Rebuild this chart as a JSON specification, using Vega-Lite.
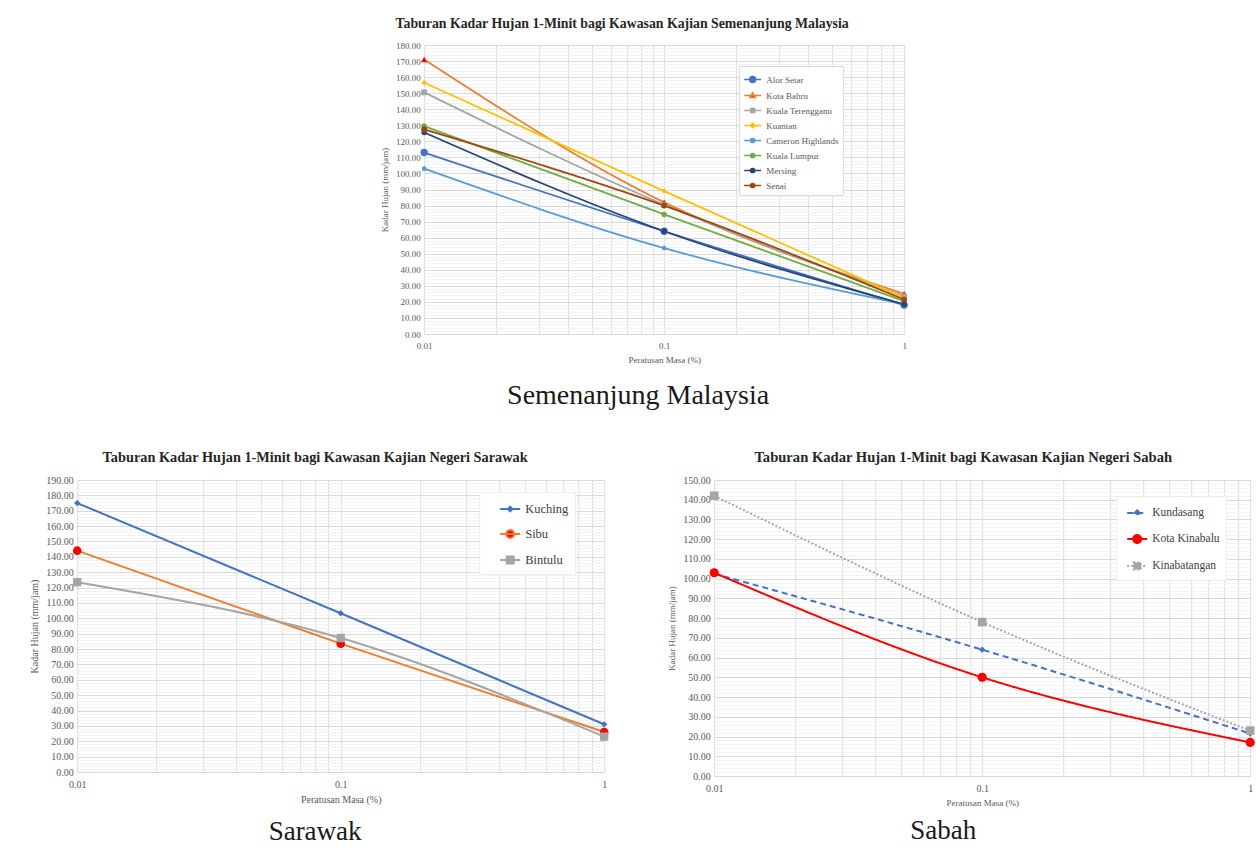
{
  "$schema": "https://vega.github.io/schema/vega-lite/v6.json",
  "background": "white",
  "padding": {"left": 29, "top": 17, "right": 0, "bottom": 0},
  "datasets": {
    "sem": [
      {"station": "Alor Setar", "masa": 0.01, "kadar": 113},
      {"station": "Alor Setar", "masa": 0.1, "kadar": 64},
      {"station": "Alor Setar", "masa": 1, "kadar": 18},
      {"station": "Kota Bahru", "masa": 0.01, "kadar": 171},
      {"station": "Kota Bahru", "masa": 0.1, "kadar": 82},
      {"station": "Kota Bahru", "masa": 1, "kadar": 25},
      {"station": "Kuala Terengganu", "masa": 0.01, "kadar": 150.5},
      {"station": "Kuala Terengganu", "masa": 0.1, "kadar": 80.5},
      {"station": "Kuala Terengganu", "masa": 1, "kadar": 23.5},
      {"station": "Kuantan", "masa": 0.01, "kadar": 156.5},
      {"station": "Kuantan", "masa": 0.1, "kadar": 89},
      {"station": "Kuantan", "masa": 1, "kadar": 22.5},
      {"station": "Cameron Highlands", "masa": 0.01, "kadar": 103},
      {"station": "Cameron Highlands", "masa": 0.1, "kadar": 53.5},
      {"station": "Cameron Highlands", "masa": 1, "kadar": 18.5},
      {"station": "Kuala Lumpur", "masa": 0.01, "kadar": 129.5},
      {"station": "Kuala Lumpur", "masa": 0.1, "kadar": 74.5},
      {"station": "Kuala Lumpur", "masa": 1, "kadar": 20.5},
      {"station": "Mersing", "masa": 0.01, "kadar": 125.5},
      {"station": "Mersing", "masa": 0.1, "kadar": 64},
      {"station": "Mersing", "masa": 1, "kadar": 18.5},
      {"station": "Senai", "masa": 0.01, "kadar": 127.5},
      {"station": "Senai", "masa": 0.1, "kadar": 80},
      {"station": "Senai", "masa": 1, "kadar": 21.5}
    ],
    "sar": [
      {"station": "Kuching", "masa": 0.01, "kadar": 175},
      {"station": "Kuching", "masa": 0.1, "kadar": 103.3},
      {"station": "Kuching", "masa": 1, "kadar": 31},
      {"station": "Sibu", "masa": 0.01, "kadar": 144},
      {"station": "Sibu", "masa": 0.1, "kadar": 83.5},
      {"station": "Sibu", "masa": 1, "kadar": 26},
      {"station": "Bintulu", "masa": 0.01, "kadar": 123.5},
      {"station": "Bintulu", "masa": 0.1, "kadar": 87.2},
      {"station": "Bintulu", "masa": 1, "kadar": 23}
    ],
    "sab": [
      {"station": "Kundasang", "masa": 0.01, "kadar": 102.5},
      {"station": "Kundasang", "masa": 0.1, "kadar": 64},
      {"station": "Kundasang", "masa": 1, "kadar": 21.5},
      {"station": "Kota Kinabalu", "masa": 0.01, "kadar": 103},
      {"station": "Kota Kinabalu", "masa": 0.1, "kadar": 50},
      {"station": "Kota Kinabalu", "masa": 1, "kadar": 17},
      {"station": "Kinabatangan", "masa": 0.01, "kadar": 142},
      {"station": "Kinabatangan", "masa": 0.1, "kadar": 78},
      {"station": "Kinabatangan", "masa": 1, "kadar": 23}
    ]
  },
  "vconcat": [
    {
      "title": {"text": "Semenanjung Malaysia", "orient": "bottom", "fontSize": 28, "fontWeight": "normal", "color": "#1a1a1a", "offset": 18, "dx": -6},
      "resolve": {"scale": {"stroke": "independent", "fill": "independent", "shape": "independent", "strokeDash": "independent", "strokeWidth": "independent"},
        "legend": {"stroke": "independent", "fill": "independent", "shape": "independent", "strokeDash": "independent", "strokeWidth": "independent"}},
      "vconcat": [
        {
          "width": 480,
          "height": 289,
          "title": {"text": "Taburan  Kadar Hujan 1-Minit bagi Kawasan  Kajian Semenanjung Malaysia", "offset": 10, "fontSize": 13.8, "dx": -22},
          "data": {"name": "sem"},
          "encoding": {
            "x": {"field": "masa", "type": "quantitative",
              "scale": {"type": "log", "domain": [0.01, 1], "nice": false},
              "axis": {"title": "Peratusan Masa (%)", "values": [0.01,0.02,0.03,0.04,0.05,0.06,0.07,0.08,0.09,0.1,0.2,0.3,0.4,0.5,0.6,0.7,0.8,0.9,1],
                "labelExpr": "indexof([0.01,0.1,1], datum.value) >= 0 ? toString(datum.value) : ''", "labelFontSize": 9, "titleFontSize": 9}},
            "y": {"field": "kadar", "type": "quantitative",
              "scale": {"domain": [0, 180], "nice": false, "zero": true},
              "axis": {"title": "Kadar Hujan (mm/jam)", "values": [0,2,4,6,8,10,12,14,16,18,20,22,24,26,28,30,32,34,36,38,40,42,44,46,48,50,52,54,56,58,60,62,64,66,68,70,72,74,76,78,80,82,84,86,88,90,92,94,96,98,100,102,104,106,108,110,112,114,116,118,120,122,124,126,128,130,132,134,136,138,140,142,144,146,148,150,152,154,156,158,160,162,164,166,168,170,172,174,176,178,180],
                "labelExpr": "datum.value % 10 == 0 ? format(datum.value, '.2f') : ''",
                "gridColor": {"expr": "datum.value % 10 == 0 ? '#d9d9d9' : '#f3f3f3'"}, "labelFontSize": 9, "titleFontSize": 9}}
          },
          "layer": [
            {
              "mark": {"type": "line", "interpolate": "monotone", "strokeWidth": 1.8},
              "encoding": {
                "stroke": {"field": "station", "type": "nominal",
                  "scale": {"domain": ["Alor Setar","Kota Bahru","Kuala Terengganu","Kuantan","Cameron Highlands","Kuala Lumpur","Mersing","Senai"],
                    "range": ["#4472C4","#ED7D31","#A5A5A5","#FFC000","#5B9BD5","#70AD47","#264478","#9E480E"]},
                  "legend": {"orient": "none", "legendX": 315, "legendY": 21, "title": null, "fillColor": "white", "strokeColor": "#d9d9d9", "padding": 4,
                    "symbolSize": 289, "rowPadding": 0, "labelFontSize": 9, "labelColor": "#595959", "symbolStrokeWidth": 1.6}}
              }
            },
            {
              "mark": {"type": "point", "filled": true, "opacity": 1},
              "encoding": {
                "fill": {"condition": [
                    {"test": "datum.station == 'Alor Setar'", "value": "#4472C4"},
                    {"test": "datum.station == 'Kota Bahru'", "value": "#FF0000"},
                    {"test": "datum.station == 'Kuala Terengganu'", "value": "#A5A5A5"},
                    {"test": "datum.station == 'Kuantan'", "value": "#FFC000"},
                    {"test": "datum.station == 'Cameron Highlands'", "value": "#5B9BD5"},
                    {"test": "datum.station == 'Kuala Lumpur'", "value": "#70AD47"},
                    {"test": "datum.station == 'Mersing'", "value": "#264478"}
                  ], "value": "#9E480E"},
                "shape": {"condition": [
                    {"test": "datum.station == 'Kota Bahru'", "value": "triangle-up"},
                    {"test": "datum.station == 'Kuala Terengganu'", "value": "square"},
                    {"test": "datum.station == 'Kuantan'", "value": "diamond"}
                  ], "value": "circle"},
                "size": {"condition": [
                    {"test": "datum.station == 'Alor Setar'", "value": 55},
                    {"test": "datum.station == 'Kota Bahru'", "value": 40},
                    {"test": "datum.station == 'Kuala Terengganu'", "value": 34},
                    {"test": "datum.station == 'Cameron Highlands'", "value": 22},
                    {"test": "datum.station == 'Senai'", "value": 36}
                  ], "value": 30}
              }
            },
            {
              "transform": [{"filter": "false"}],
              "mark": {"type": "point", "filled": true, "opacity": 1, "strokeWidth": 1.6},
              "encoding": {
                "stroke": {"field": "station", "type": "nominal",
                  "scale": {"domain": ["Alor Setar","Kota Bahru","Kuala Terengganu","Kuantan","Cameron Highlands","Kuala Lumpur","Mersing","Senai"],
                    "range": ["#4472C4","#ED7D31","#A5A5A5","#FFC000","#5B9BD5","#70AD47","#264478","#9E480E"]},
                  "legend": {"orient": "none", "legendX": 315, "legendY": 21, "title": null, "fillColor": "white", "strokeColor": "#d9d9d9", "padding": 4,
                    "symbolSize": 289, "rowPadding": 0, "labelFontSize": 9, "labelColor": "#595959", "symbolStrokeWidth": 1.6}},
                "fill": {"field": "station", "type": "nominal",
                  "scale": {"domain": ["Alor Setar","Kota Bahru","Kuala Terengganu","Kuantan","Cameron Highlands","Kuala Lumpur","Mersing","Senai"],
                    "range": ["#4472C4","#FF0000","#A5A5A5","#FFC000","#5B9BD5","#70AD47","#264478","#9E480E"]},
                  "legend": {"orient": "none", "legendX": 315, "legendY": 21, "title": null, "fillColor": "white", "strokeColor": "#d9d9d9", "padding": 4,
                    "symbolSize": 289, "rowPadding": 0, "labelFontSize": 9, "labelColor": "#595959", "symbolStrokeWidth": 1.6}},
                "shape": {"field": "station", "type": "nominal",
                  "scale": {"domain": ["Alor Setar","Kota Bahru","Kuala Terengganu","Kuantan","Cameron Highlands","Kuala Lumpur","Mersing","Senai"],
                    "range": ["M-1,0L1,0M-0.34,0A0.34,0.34,0,1,0,0.34,0A0.34,0.34,0,1,0,-0.34,0",
                      "M-1,0L1,0M0,-0.32L0.32,0.24L-0.32,0.24Z",
                      "M-1,0L1,0M-0.22,-0.22L0.22,-0.22L0.22,0.22L-0.22,0.22Z",
                      "M-1,0L1,0M0,-0.26L0.26,0L0,0.26L-0.26,0Z",
                      "M-1,0L1,0M-0.24,0A0.24,0.24,0,1,0,0.24,0A0.24,0.24,0,1,0,-0.24,0",
                      "M-1,0L1,0M-0.24,0A0.24,0.24,0,1,0,0.24,0A0.24,0.24,0,1,0,-0.24,0",
                      "M-1,0L1,0M-0.24,0A0.24,0.24,0,1,0,0.24,0A0.24,0.24,0,1,0,-0.24,0",
                      "M-1,0L1,0M-0.24,0A0.24,0.24,0,1,0,0.24,0A0.24,0.24,0,1,0,-0.24,0"]},
                  "legend": {"orient": "none", "legendX": 315, "legendY": 21, "title": null, "fillColor": "white", "strokeColor": "#d9d9d9", "padding": 4,
                    "symbolSize": 289, "rowPadding": 0, "labelFontSize": 9, "labelColor": "#595959", "symbolStrokeWidth": 1.6}}
              }
            }
          ]
        }
      ]
    },
    {
      "resolve": {"scale": {"stroke": "independent", "fill": "independent", "shape": "independent", "strokeDash": "independent", "strokeWidth": "independent"},
        "legend": {"stroke": "independent", "fill": "independent", "shape": "independent", "strokeDash": "independent", "strokeWidth": "independent"}},
      "hconcat": [
        {
          "title": {"text": "Sarawak", "orient": "bottom", "fontSize": 27, "fontWeight": "normal", "color": "#1a1a1a", "offset": 15, "dx": -4},
          "vconcat": [
            {
              "width": 527,
              "height": 292,
              "title": {"text": "Taburan  Kadar Hujan 1-Minit bagi Kawasan  Kajian Negeri Sarawak", "offset": 10, "fontSize": 14.3, "dx": -4},
              "data": {"name": "sar"},
              "encoding": {
                "x": {"field": "masa", "type": "quantitative",
                  "scale": {"type": "log", "domain": [0.01, 1], "nice": false},
                  "axis": {"title": "Peratusan Masa (%)", "values": [0.01,0.02,0.03,0.04,0.05,0.06,0.07,0.08,0.09,0.1,0.2,0.3,0.4,0.5,0.6,0.7,0.8,0.9,1],
                    "labelExpr": "indexof([0.01,0.1,1], datum.value) >= 0 ? toString(datum.value) : ''", "labelFontSize": 10, "titleFontSize": 10}},
                "y": {"field": "kadar", "type": "quantitative",
                  "scale": {"domain": [0, 190], "nice": false, "zero": true},
                  "axis": {"title": "Kadar Hujan (mm/jam)", "values": [0,2,4,6,8,10,12,14,16,18,20,22,24,26,28,30,32,34,36,38,40,42,44,46,48,50,52,54,56,58,60,62,64,66,68,70,72,74,76,78,80,82,84,86,88,90,92,94,96,98,100,102,104,106,108,110,112,114,116,118,120,122,124,126,128,130,132,134,136,138,140,142,144,146,148,150,152,154,156,158,160,162,164,166,168,170,172,174,176,178,180,182,184,186,188,190],
                    "labelExpr": "datum.value % 10 == 0 ? format(datum.value, '.2f') : ''",
                    "gridColor": {"expr": "datum.value % 10 == 0 ? '#d9d9d9' : '#f3f3f3'"}, "labelFontSize": 10, "titleFontSize": 10}}
              },
              "layer": [
                {
                  "mark": {"type": "line", "interpolate": "monotone", "strokeWidth": 2},
                  "encoding": {
                    "stroke": {"field": "station", "type": "nominal",
                      "scale": {"domain": ["Kuching","Sibu","Bintulu"], "range": ["#4472C4","#ED7D31","#A5A5A5"]},
                      "legend": {"orient": "none", "legendX": 402, "legendY": 12, "title": null, "fillColor": "white", "strokeColor": "#ececec", "padding": 6,
                        "symbolSize": 400, "rowPadding": 7, "symbolOffset": 14, "labelFontSize": 12.5, "labelColor": "#404040", "symbolStrokeWidth": 1.8}}
                  }
                },
                {
                  "mark": {"type": "point", "filled": true, "opacity": 1},
                  "encoding": {
                    "fill": {"condition": [
                        {"test": "datum.station == 'Kuching'", "value": "#4472C4"},
                        {"test": "datum.station == 'Sibu'", "value": "#FF0000"}
                      ], "value": "#A5A5A5"},
                    "shape": {"condition": [
                        {"test": "datum.station == 'Kuching'", "value": "diamond"},
                        {"test": "datum.station == 'Sibu'", "value": "circle"}
                      ], "value": "square"},
                    "size": {"condition": [
                        {"test": "datum.station == 'Kuching'", "value": 40},
                        {"test": "datum.station == 'Sibu'", "value": 75}
                      ], "value": 70}
                  }
                },
                {
                  "transform": [{"filter": "false"}],
                  "mark": {"type": "point", "filled": true, "opacity": 1, "strokeWidth": 1.8},
                  "encoding": {
                    "stroke": {"field": "station", "type": "nominal",
                      "scale": {"domain": ["Kuching","Sibu","Bintulu"], "range": ["#4472C4","#ED7D31","#A5A5A5"]},
                      "legend": {"orient": "none", "legendX": 402, "legendY": 12, "title": null, "fillColor": "white", "strokeColor": "#ececec", "padding": 6,
                        "symbolSize": 400, "rowPadding": 7, "symbolOffset": 14, "labelFontSize": 12.5, "labelColor": "#404040", "symbolStrokeWidth": 1.8}},
                    "fill": {"field": "station", "type": "nominal",
                      "scale": {"domain": ["Kuching","Sibu","Bintulu"], "range": ["#4472C4","#FF0000","#A5A5A5"]},
                      "legend": {"orient": "none", "legendX": 402, "legendY": 12, "title": null, "fillColor": "white", "strokeColor": "#ececec", "padding": 6,
                        "symbolSize": 400, "rowPadding": 7, "symbolOffset": 14, "labelFontSize": 12.5, "labelColor": "#404040", "symbolStrokeWidth": 1.8}},
                    "shape": {"field": "station", "type": "nominal",
                      "scale": {"domain": ["Kuching","Sibu","Bintulu"], "range": [
                        "M-1,0L1,0M0,-0.24L0.24,0L0,0.24L-0.24,0Z",
                        "M-1,0L1,0M-0.4,0A0.4,0.4,0,1,0,0.4,0A0.4,0.4,0,1,0,-0.4,0",
                        "M-1,0L1,0M-0.36,-0.36L0.36,-0.36L0.36,0.36L-0.36,0.36Z"]},
                      "legend": {"orient": "none", "legendX": 402, "legendY": 12, "title": null, "fillColor": "white", "strokeColor": "#ececec", "padding": 6,
                        "symbolSize": 400, "rowPadding": 7, "symbolOffset": 14, "labelFontSize": 12.5, "labelColor": "#404040", "symbolStrokeWidth": 1.8}}
                  }
                }
              ]
            }
          ]
        },
        {
          "title": {"text": "Sabah", "orient": "bottom", "fontSize": 27, "fontWeight": "normal", "color": "#1a1a1a", "offset": 11, "dx": -18},
          "vconcat": [
            {
              "width": 536,
              "height": 296,
              "title": {"text": "Taburan  Kadar Hujan 1-Minit bagi Kawasan  Kajian Negeri Sabah", "offset": 10, "fontSize": 14.6, "dx": 2},
              "data": {"name": "sab"},
              "encoding": {
                "x": {"field": "masa", "type": "quantitative",
                  "scale": {"type": "log", "domain": [0.01, 1], "nice": false},
                  "axis": {"title": "Peratusan Masa (%)", "values": [0.01,0.02,0.03,0.04,0.05,0.06,0.07,0.08,0.09,0.1,0.2,0.3,0.4,0.5,0.6,0.7,0.8,0.9,1],
                    "labelExpr": "indexof([0.01,0.1,1], datum.value) >= 0 ? toString(datum.value) : ''", "labelFontSize": 10, "titleFontSize": 9}},
                "y": {"field": "kadar", "type": "quantitative",
                  "scale": {"domain": [0, 150], "nice": false, "zero": true},
                  "axis": {"title": "Kadar Hujan (mm/jam)", "values": [0,2,4,6,8,10,12,14,16,18,20,22,24,26,28,30,32,34,36,38,40,42,44,46,48,50,52,54,56,58,60,62,64,66,68,70,72,74,76,78,80,82,84,86,88,90,92,94,96,98,100,102,104,106,108,110,112,114,116,118,120,122,124,126,128,130,132,134,136,138,140,142,144,146,148,150],
                    "labelExpr": "datum.value % 10 == 0 ? format(datum.value, '.2f') : ''",
                    "gridColor": {"expr": "datum.value % 10 == 0 ? '#d9d9d9' : '#f3f3f3'"}, "labelFontSize": 10, "titleFontSize": 9}}
              },
              "layer": [
                {
                  "mark": {"type": "line", "interpolate": "monotone"},
                  "encoding": {
                    "stroke": {"field": "station", "type": "nominal",
                      "scale": {"domain": ["Kundasang","Kota Kinabalu","Kinabatangan"], "range": ["#4472C4","#FF0000","#A5A5A5"]},
                      "legend": {"orient": "none", "legendX": 402, "legendY": 16, "title": null, "fillColor": "white", "strokeColor": "#ececec", "padding": 6,
                        "symbolSize": 400, "rowPadding": 8, "symbolOffset": 4, "labelFontSize": 11.5, "labelColor": "#404040", "symbolStrokeWidth": 1.8}},
                    "strokeDash": {"field": "station", "type": "nominal",
                      "scale": {"domain": ["Kundasang","Kota Kinabalu","Kinabatangan"], "range": [[6,4],[1,0],[2,2]]},
                      "legend": {"orient": "none", "legendX": 402, "legendY": 16, "title": null, "fillColor": "white", "strokeColor": "#ececec", "padding": 6,
                        "symbolSize": 400, "rowPadding": 8, "symbolOffset": 4, "labelFontSize": 11.5, "labelColor": "#404040", "symbolStrokeWidth": 1.8}},
                    "strokeWidth": {"field": "station", "type": "nominal",
                      "scale": {"domain": ["Kundasang","Kota Kinabalu","Kinabatangan"], "range": [2, 2, 1.5]}, "legend": null}
                  }
                },
                {
                  "mark": {"type": "point", "filled": true, "opacity": 1},
                  "encoding": {
                    "fill": {"condition": [
                        {"test": "datum.station == 'Kundasang'", "value": "#4472C4"},
                        {"test": "datum.station == 'Kota Kinabalu'", "value": "#FF0000"}
                      ], "value": "#A5A5A5"},
                    "shape": {"condition": [
                        {"test": "datum.station == 'Kundasang'", "value": "diamond"},
                        {"test": "datum.station == 'Kota Kinabalu'", "value": "circle"}
                      ], "value": "square"},
                    "size": {"condition": [
                        {"test": "datum.station == 'Kundasang'", "value": 40},
                        {"test": "datum.station == 'Kota Kinabalu'", "value": 85}
                      ], "value": 75}
                  }
                },
                {
                  "transform": [{"filter": "false"}],
                  "mark": {"type": "point", "filled": true, "opacity": 1, "strokeWidth": 1.8},
                  "encoding": {
                    "stroke": {"field": "station", "type": "nominal",
                      "scale": {"domain": ["Kundasang","Kota Kinabalu","Kinabatangan"], "range": ["#4472C4","#FF0000","#A5A5A5"]},
                      "legend": {"orient": "none", "legendX": 402, "legendY": 16, "title": null, "fillColor": "white", "strokeColor": "#ececec", "padding": 6,
                        "symbolSize": 400, "rowPadding": 8, "symbolOffset": 4, "labelFontSize": 11.5, "labelColor": "#404040", "symbolStrokeWidth": 1.8}},
                    "fill": {"field": "station", "type": "nominal",
                      "scale": {"domain": ["Kundasang","Kota Kinabalu","Kinabatangan"], "range": ["#4472C4","#FF0000","#A5A5A5"]},
                      "legend": {"orient": "none", "legendX": 402, "legendY": 16, "title": null, "fillColor": "white", "strokeColor": "#ececec", "padding": 6,
                        "symbolSize": 400, "rowPadding": 8, "symbolOffset": 4, "labelFontSize": 11.5, "labelColor": "#404040", "symbolStrokeWidth": 1.8}},
                    "shape": {"field": "station", "type": "nominal",
                      "scale": {"domain": ["Kundasang","Kota Kinabalu","Kinabatangan"], "range": [
                        "M-1,0L1,0M0,-0.26L0.26,0L0,0.26L-0.26,0Z",
                        "M-1,0L1,0M-0.4,0A0.4,0.4,0,1,0,0.4,0A0.4,0.4,0,1,0,-0.4,0",
                        "M-1,0L1,0M-0.36,-0.36L0.36,-0.36L0.36,0.36L-0.36,0.36Z"]},
                      "legend": {"orient": "none", "legendX": 402, "legendY": 16, "title": null, "fillColor": "white", "strokeColor": "#ececec", "padding": 6,
                        "symbolSize": 400, "rowPadding": 8, "symbolOffset": 4, "labelFontSize": 11.5, "labelColor": "#404040", "symbolStrokeWidth": 1.8}}
                  }
                }
              ]
            }
          ]
        }
      ],
      "spacing": 58
    }
  ],
  "resolve": {"scale": {"stroke": "independent", "fill": "independent", "shape": "independent", "strokeDash": "independent", "strokeWidth": "independent"},
    "legend": {"stroke": "independent", "fill": "independent", "shape": "independent", "strokeDash": "independent", "strokeWidth": "independent"}},
  "center": true,
  "spacing": 40,
  "config": {
    "font": "Liberation Serif",
    "view": {"stroke": null},
    "title": {"font": "Liberation Serif", "fontSize": 12.5, "fontWeight": "bold", "color": "#262626", "anchor": "middle", "frame": "bounds"},
    "axis": {"labelFont": "Liberation Serif", "titleFont": "Liberation Serif", "labelColor": "#595959", "titleColor": "#595959",
      "titleFontWeight": "normal", "ticks": false, "domain": false, "grid": true, "gridColor": "#d9d9d9", "gridWidth": 1,
      "labelOverlap": false, "labelFlush": false},
    "axisX": {"labelPadding": 7, "titlePadding": 5},
    "axisY": {"labelPadding": 4, "titlePadding": 6},
    "legend": {"labelFont": "Liberation Serif"}
  }
}
